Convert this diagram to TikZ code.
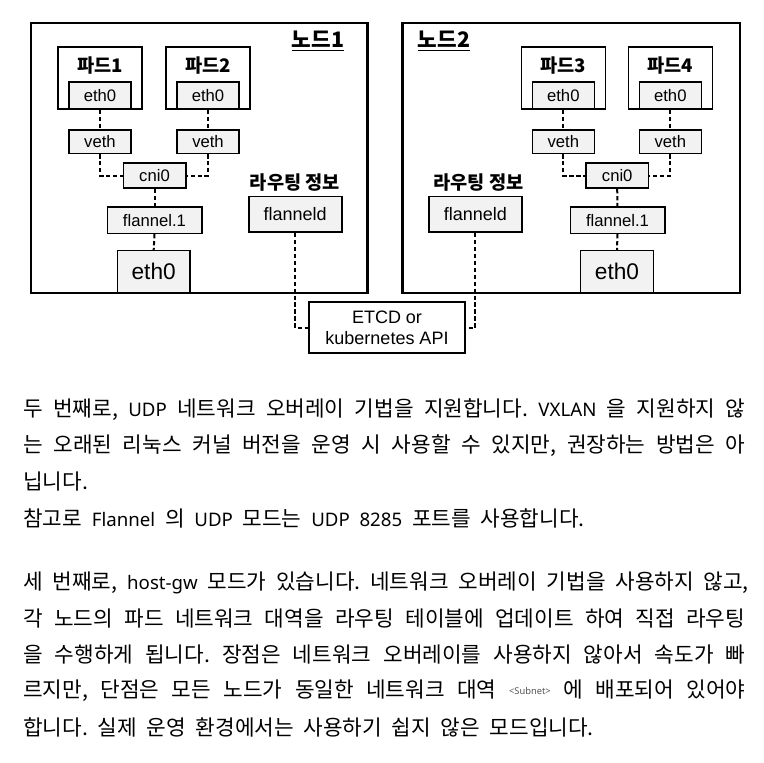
\documentclass[tikz,border=0pt]{standalone}
\usepackage{fontspec}
\setmainfont{Liberation Sans}
\newfontfamily\kr{Noto Sans CJK KR}
\newfontfamily\latn{Noto Sans}
\definecolor{boxgray}{HTML}{F2F2F2}
\definecolor{subgray}{HTML}{555555}
\newcommand\jline[1]{\makebox[541.5pt][s]{#1}}
\newcommand\lw[1]{{\latn\fontsize{14}{16}\selectfont #1}}
\newcommand\parafont{\kr\fontsize{16}{18}\selectfont\frenchspacing\spaceskip=7.3pt plus 30pt\relax}
\tikzset{
  wh/.style 2 args={minimum width=#1*0.75pt, minimum height=#2*0.75pt},
  nodebox/.style={draw, line width=1.6pt, fill=white, inner sep=0},
  podbox/.style={draw, line width=1.2pt, fill=white, inner sep=0},
  gbox/.style={draw, line width=1.2pt, fill=boxgray, inner sep=0, font=\fontsize{12.5}{14}\selectfont},
  bigbox/.style={draw, line width=1.2pt, fill=boxgray, inner sep=0, font=\fontsize{17}{20}\selectfont},
  ntitle/.style={inner sep=0, font=\kr\bfseries\fontsize{16}{19}\selectfont},
  ptitle/.style={inner sep=0, font=\kr\bfseries\fontsize{14}{17}\selectfont},
  conn/.style={line width=1.5pt, dash pattern=on 3.2pt off 2pt},
  para/.style={anchor=west, inner sep=0, font=\parafont},
}
\begin{document}
\begin{tikzpicture}[x=0.75pt,y=-0.75pt]
\useasboundingbox (0,0) rectangle (764,763);
\fill[white] (0,0) rectangle (764,763);
% node frames
\node[nodebox, wh={336.5}{270}] (n1) at (199.25,158) {};
\node[nodebox, wh={337.5}{270}] (n2) at (571.25,158) {};
\node[ntitle] (n1t) at (318,41) {\underline{노드1}};
\node[ntitle] (n2t) at (444,41) {\underline{노드2}};
% pods
\node[podbox, wh={84}{62}] (p1) at (100,78) {};
\node[podbox, wh={84}{62}] (p2) at (208,78) {};
\node[podbox, wh={84}{62}] (p3) at (563.3,78) {};
\node[podbox, wh={84}{62}] (p4) at (670.3,78) {};
\node[ptitle] (p1t) at (100,66) {파드1};
\node[ptitle] (p2t) at (208,66) {파드2};
\node[ptitle] (p3t) at (563.3,66) {파드3};
\node[ptitle] (p4t) at (670.3,66) {파드4};
\node[gbox, wh={62}{27}] (pe1) at (100,95.5) {eth0};
\node[gbox, wh={62}{27}] (pe2) at (208,95.5) {eth0};
\node[gbox, wh={62}{27}] (pe3) at (563.3,95.5) {eth0};
\node[gbox, wh={62}{27}] (pe4) at (670.3,95.5) {eth0};
% veth
\node[gbox, wh={62}{23.5}] (v1) at (100,141.7) {veth};
\node[gbox, wh={62}{23.5}] (v2) at (208,141.7) {veth};
\node[gbox, wh={62}{23.5}] (v3) at (563.3,141.7) {veth};
\node[gbox, wh={62}{23.5}] (v4) at (670.3,141.7) {veth};
% cni0
\node[gbox, wh={62.4}{25}] (c1) at (154.5,175.8) {cni0};
\node[gbox, wh={62.4}{25}] (c2) at (617.2,175.8) {cni0};
% flannel.1
\node[gbox, wh={94.4}{26}] (f1) at (154.5,220.3) {flannel.1};
\node[gbox, wh={94.4}{26}] (f2) at (617.5,220.3) {flannel.1};
% host eth0
\node[bigbox, wh={72.7}{42.3}] (e1) at (153.7,271.8) {eth0};
\node[bigbox, wh={72.7}{42.3}] (e2) at (617,271.8) {eth0};
% flanneld
\node[ptitle] (r1) at (295,183) {라우팅 정보};
\node[ptitle] (r2) at (478.3,183) {라우팅 정보};
\node[gbox, wh={93}{35.6}, font=\fontsize{13.5}{15}\selectfont] (fd1) at (295.2,214.5) {flanneld};
\node[gbox, wh={93}{35.6}, font=\fontsize{13.5}{15}\selectfont] (fd2) at (475.3,214.5) {flanneld};
% etcd
\node[draw, line width=1.6pt, fill=white, inner sep=0, wh={156}{51}, align=center, font=\fontsize{13.5}{16.3}\selectfont] (etcd) at (387,327.8) {ETCD or\\kubernetes API};
% connectors
\draw[conn] (pe1.south) -- (v1.north);
\draw[conn] (pe2.south) -- (v2.north);
\draw[conn] (pe3.south) -- (v3.north);
\draw[conn] (pe4.south) -- (v4.north);
\draw[conn] (v1.south) |- (c1.west);
\draw[conn] (v2.south) |- (c1.east);
\draw[conn] (v3.south) |- (c2.west);
\draw[conn] (v4.south) |- (c2.east);
\draw[conn] (c1.south) -- (f1.north);
\draw[conn] (c2.south) -- (f2.north);
\draw[conn] (f1.south) -- (e1.north);
\draw[conn] (f2.south) -- (e2.north);
\draw[conn] (fd1.south) |- (etcd.west);
\draw[conn] (fd2.south) |- (etcd.east);
% text
\node[para] (l1) at (23,410) {\jline{두 번째로, \lw{UDP} 네트워크 오버레이 기법을 지원합니다. \lw{VXLAN} 을 지원하지 않}};
\node[para] (l2) at (23,446) {\jline{는 오래된 리눅스 커널 버전을 운영 시 사용할 수 있지만, 권장하는 방법은 아}};
\node[para] (l3) at (23,482) {닙니다.};
\node[para] (l4) at (23,518) {참고로 \lw{Flannel} 의 \lw{UDP} 모드는 \lw{UDP 8285} 포트를 사용합니다.};
\node[para] (l5) at (23,583) {\jline{세 번째로, \lw{host-gw} 모드가 있습니다. 네트워크 오버레이 기법을 사용하지 않고,}};
\node[para] (l6) at (23,619) {\jline{각 노드의 파드 네트워크 대역을 라우팅 테이블에 업데이트 하여 직접 라우팅}};
\node[para] (l7) at (23,655) {\jline{을 수행하게 됩니다. 장점은 네트워크 오버레이를 사용하지 않아서 속도가 빠}};
\node[para] (l8) at (23,691) {\jline{르지만, 단점은 모든 노드가 동일한 네트워크 대역 {\latn\fontsize{7}{8}\selectfont\color{subgray}\raisebox{0.4em}{<Subnet>}} 에 배포되어 있어야}};
\node[para] (l9) at (23,727) {합니다. 실제 운영 환경에서는 사용하기 쉽지 않은 모드입니다.};
\end{tikzpicture}
\end{document}
